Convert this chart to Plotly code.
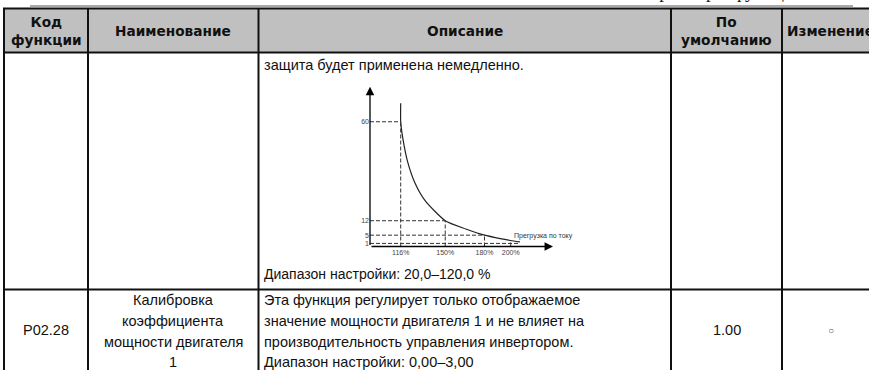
import plotly.graph_objects as go

# overload curve: current overload (%) vs. time (min)
overload_pct = [116, 116, 117.8, 121.2, 126.9, 134.8, 150, 165.7, 180, 193.2, 200, 207]
time_min = [69, 60, 51.3, 40.8, 30.3, 21.6, 12, 8.0, 5, 3.2, 2.4, 1.7]

# dashed guide lines
guide_pct = [116, 150, 180, 200]
guide_time = [60, 12, 5, 1]
guide_h_end = [116, 150, 180, 207]
guide_v_top = [60, 12, 5, 2.4]
x_ticktext = ['116%', '150%', '180%', '200%']
y_ticktext = ['60', '12', '5', '1']

# table content
header_text = ['Код<br>функции', 'Наименование', 'Описание', 'По<br>умолчанию', 'Изменение']
row1_desc_top = 'защита будет применена немедленно.'
row1_desc_bottom = 'Диапазон настройки: 20,0–120,0 %'
row2_code = 'P02.28'
row2_name = ['Калибровка', 'коэффициента', 'мощности двигателя', '1']
row2_desc = ['Эта функция регулирует только отображаемое',
             'значение мощности двигателя 1 и не влияет на',
             'производительность управления инвертором.',
             'Диапазон настройки: 0,00–3,00']
row2_default = '1.00'
row2_change = '○'

W, H = 869, 370
col_x = [4, 88, 258.5, 671, 782, 880]
row_y = [8.5, 52.5, 289.5]

X_RANGE = [92.56, 232.3]
Y_RANGE = [-0.5, 77.0]

BODY = 'Liberation Sans'
BODY_SIZE = 14.5
HEAD = 'DejaVu Sans'
HEAD_SIZE = 13.7
INK = '#111111'

fig = go.Figure()

# curve
fig.add_trace(go.Scatter(
    x=overload_pct, y=time_min, mode='lines',
    line=dict(color='#222222', width=1.2, shape='spline', smoothing=0.6),
    xaxis='x2', yaxis='y2', hoverinfo='skip', showlegend=False
))

# dashed guides
gx, gy = [], []
for p, t, he, vt in zip(guide_pct, guide_time, guide_h_end, guide_v_top):
    gx += [X_RANGE[0], he, None, p, p, None]
    gy += [t, t, None, Y_RANGE[0], vt, None]
fig.add_trace(go.Scatter(
    x=gx, y=gy, mode='lines',
    line=dict(color='#333333', width=1, dash='4px,2px'),
    xaxis='x2', yaxis='y2', hoverinfo='skip', showlegend=False
))

shapes = []
# header background
shapes.append(dict(type='rect', xref='x', yref='y', x0=col_x[0], x1=col_x[-1],
                   y0=row_y[0], y1=row_y[1], fillcolor='#c0c0c0', line_width=0, layer='below'))
# thin page header rule
shapes.append(dict(type='line', xref='x', yref='y', x0=30, x1=853, y0=6, y1=6,
                   line=dict(color='#555555', width=1.2)))
# horizontal table lines
for yv in row_y:
    shapes.append(dict(type='line', xref='x', yref='y', x0=col_x[0] - 1, x1=col_x[-1], y0=yv, y1=yv,
                       line=dict(color=INK, width=2)))
# vertical table lines
for xv in col_x[:-1]:
    shapes.append(dict(type='line', xref='x', yref='y', x0=xv, x1=xv, y0=row_y[0], y1=H + 5,
                       line=dict(color=INK, width=2)))

annotations = []
# clipped page header text
annotations.append(dict(xref='x', yref='y', x=635, y=4.5, xanchor='left', yanchor='bottom',
                        text='Параметры функций', showarrow=False,
                        font=dict(family='Liberation Serif', size=19, color='#222222')))
# header cells
for i, txt in enumerate(header_text):
    if i == 4:
        annotations.append(dict(xref='x', yref='y', x=col_x[4] + 3, y=30.5, xanchor='left',
                                yanchor='middle', text='<b>%s</b>' % txt, showarrow=False,
                                font=dict(family=HEAD, size=HEAD_SIZE, color=INK)))
    else:
        annotations.append(dict(xref='x', yref='y', x=(col_x[i] + col_x[i + 1]) / 2, y=30.5,
                                xanchor='center', yanchor='middle', text='<b>%s</b>' % txt,
                                showarrow=False, align='center',
                                font=dict(family=HEAD, size=HEAD_SIZE, color=INK)))

line_h = 20.8
# row 1 description
annotations.append(dict(xref='x', yref='y', x=col_x[2] + 3, y=64.5, xanchor='left', yanchor='middle',
                        text=row1_desc_top, showarrow=False,
                        font=dict(family=BODY, size=BODY_SIZE, color=INK)))
annotations.append(dict(xref='x', yref='y', x=col_x[2] + 3, y=273.5, xanchor='left', yanchor='middle',
                        text=row1_desc_bottom, showarrow=False,
                        font=dict(family=BODY, size=BODY_SIZE - 0.5, color=INK)))
# row 2
annotations.append(dict(xref='x', yref='y', x=(col_x[0] + col_x[1]) / 2, y=330, xanchor='center',
                        yanchor='middle', text=row2_code, showarrow=False,
                        font=dict(family=BODY, size=BODY_SIZE, color=INK)))
for k, txt in enumerate(row2_name):
    annotations.append(dict(xref='x', yref='y', x=(col_x[1] + col_x[2]) / 2, y=300 + k * line_h,
                            xanchor='center', yanchor='middle', text=txt, showarrow=False,
                            font=dict(family=BODY, size=BODY_SIZE, color=INK)))
for k, txt in enumerate(row2_desc):
    annotations.append(dict(xref='x', yref='y', x=col_x[2] + 3, y=300 + k * line_h,
                            xanchor='left', yanchor='middle', text=txt, showarrow=False,
                            font=dict(family=BODY, size=BODY_SIZE, color=INK)))
annotations.append(dict(xref='x', yref='y', x=(col_x[3] + col_x[4]) / 2, y=330, xanchor='center',
                        yanchor='middle', text=row2_default, showarrow=False,
                        font=dict(family=BODY, size=BODY_SIZE, color=INK)))
annotations.append(dict(xref='x', yref='y', x=831, y=330, xanchor='center',
                        yanchor='middle', text=row2_change, showarrow=False,
                        font=dict(family=BODY, size=10, color='#555555')))

# chart axes with arrows
annotations.append(dict(xref='x2', yref='y2', axref='x2', ayref='y2',
                        x=X_RANGE[0], y=Y_RANGE[1], ax=X_RANGE[0], ay=Y_RANGE[0],
                        text='', showarrow=True, arrowhead=2, arrowsize=1.3, arrowwidth=1.3,
                        arrowcolor='#000000', standoff=0))
annotations.append(dict(xref='x2', yref='y2', axref='x2', ayref='y2',
                        x=X_RANGE[1], y=Y_RANGE[0], ax=X_RANGE[0], ay=Y_RANGE[0],
                        text='', showarrow=True, arrowhead=2, arrowsize=1.3, arrowwidth=1.3,
                        arrowcolor='#000000', standoff=0))
annotations.append(dict(xref='x2', yref='y2', x=94.8, y=79.9, xanchor='left', yanchor='middle',
                        text='Время (мин)', showarrow=False,
                        font=dict(family=BODY, size=7, color='#333333')))
annotations.append(dict(xref='x2', yref='y2', x=201, y=4.6, xanchor='left', yanchor='middle',
                        text='Прегрузка по току', showarrow=False,
                        font=dict(family=BODY, size=7, color='#333333')))

fig.update_layout(
    width=W, height=H,
    margin=dict(l=0, r=0, t=0, b=0),
    paper_bgcolor='white', plot_bgcolor='white',
    showlegend=False,
    xaxis=dict(range=[0, W], domain=[0, 1], visible=False, fixedrange=True),
    yaxis=dict(range=[H, 0], domain=[0, 1], visible=False, fixedrange=True),
    xaxis2=dict(range=X_RANGE, domain=[370 / W, 553 / W], anchor='y2',
                showgrid=False, zeroline=False, showline=False, ticks='',
                tickvals=guide_pct, ticktext=x_ticktext,
                tickfont=dict(family=BODY, size=7, color='#444444')),
    yaxis2=dict(range=Y_RANGE, domain=[1 - 246.5 / H, 1 - 86.7 / H], anchor='x2',
                showgrid=False, zeroline=False, showline=False, ticks='',
                tickvals=guide_time, ticktext=y_ticktext,
                tickfont=dict(family=BODY, size=7, color='#444444')),
    shapes=shapes,
    annotations=annotations,
)

# page body has a default 8px margin; drop it so the figure sits at the window origin
fig.write_html("out.html", config={'displayModeBar': False},
               post_script="document.body.style.margin='0';document.body.style.overflow='hidden';")
